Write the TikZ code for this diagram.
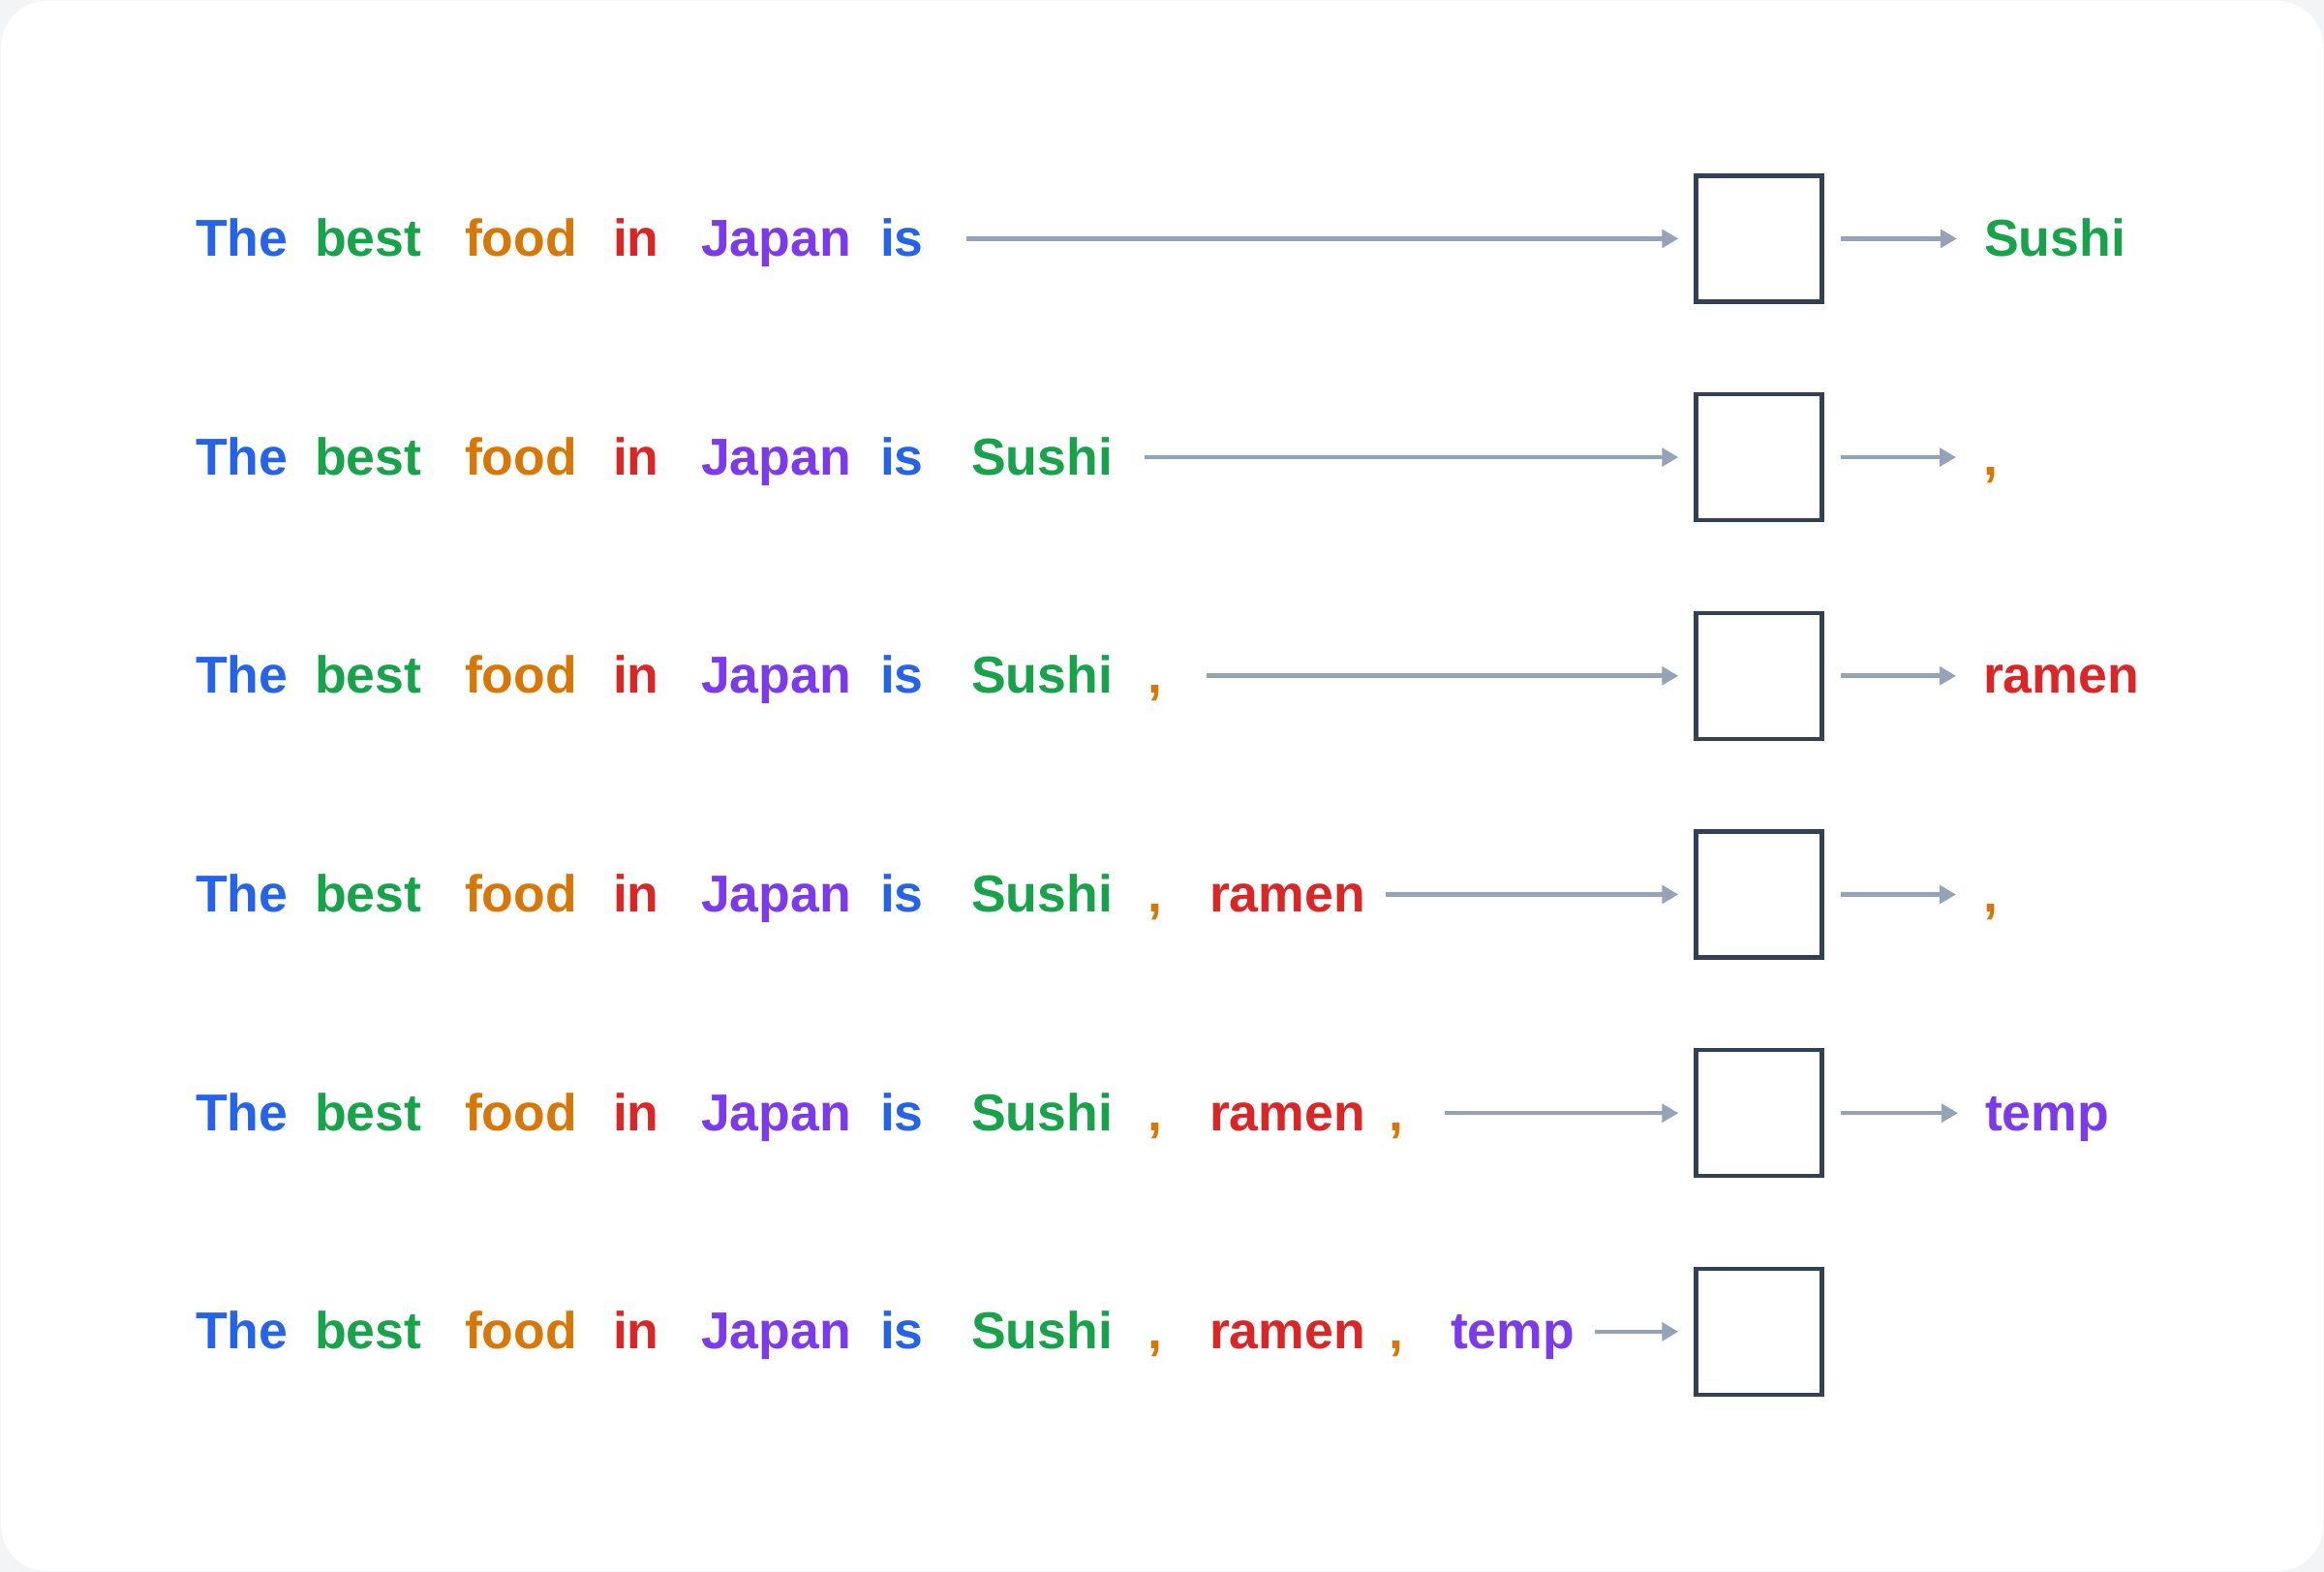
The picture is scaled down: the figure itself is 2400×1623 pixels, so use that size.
\documentclass[tikz,border=0pt]{standalone}
\usepackage{fontspec}
\setmainfont{Liberation Sans}
\usetikzlibrary{arrows.meta}
\definecolor{cblue}{HTML}{2563EB}
\definecolor{cgreen}{HTML}{16A34A}
\definecolor{corange}{HTML}{D97706}
\definecolor{cred}{HTML}{DC2626}
\definecolor{cpurple}{HTML}{7C3AED}
\definecolor{cbox}{HTML}{334155}
\definecolor{carrow}{HTML}{94A3B8}
\definecolor{cbg}{HTML}{F3F4F6}
\begin{document}
\begin{tikzpicture}[x=0.25pt,y=-0.25pt,
  word/.style={anchor=base west, inner sep=0pt, outer sep=0pt,
    font=\fontsize{13.4pt}{16pt}\selectfont\bfseries},
  cell/.style={draw=cbox, line width=1.125pt, minimum size=32.5pt, inner sep=0pt},
  flow/.style={draw=carrow, line width=1.15pt, -{Triangle[length=4.2pt,width=4.6pt]}},
]
\useasboundingbox (0,0) rectangle (2400,1623);
\fill[cbg] (0,0) rectangle (2400,1623);
\fill[white, rounded corners=11.75pt] (1,1) rectangle (2399,1622);

\foreach \r/\y/\nw/\sx in {1/246.4/6/998, 2/472.1/7/1182, 3/697.8/8/1246,
                          4/923.5/9/1431, 5/1149.2/10/1492, 6/1374.9/11/1647} {
  \foreach \j/\x/\t/\c in {1/202/The/cblue, 2/325/best/cgreen, 3/480/food/corange,
      4/633/in/cred, 5/724/Japan/cpurple, 6/909/is/cblue, 7/1003/Sushi/cgreen,
      8/1185/{,}/corange, 9/1249/ramen/cred, 10/1434/{,}/corange, 11/1498/temp/cpurple} {
    \ifnum\j>\nw\relax\else
      \node[word, text=\c] (w\r-\j) at (\x,\y+18) {\t};
    \fi
  }
  \node[cell] (b\r) at (1816.5,\y) {};
  \coordinate (s\r) at (\sx,\y);
  \draw[flow, shorten >=4pt] (s\r) -- (b\r.west);
}

\node[word, text=cgreen]  (o1) at (2049,246.4+18)  {Sushi};
\node[word, text=corange] (o2) at (2048,472.1+18)  {,};
\node[word, text=cred]    (o3) at (2048,697.8+18)  {ramen};
\node[word, text=corange] (o4) at (2048,923.5+18)  {,};
\node[word, text=cpurple] (o5) at (2050,1149.2+18) {temp};

\foreach \r in {1,...,5} {
  \draw[flow, shorten <=4.25pt, shorten >=7pt] (b\r.east) -- (b\r.east -| o\r.west);
}
\end{tikzpicture}
\end{document}
